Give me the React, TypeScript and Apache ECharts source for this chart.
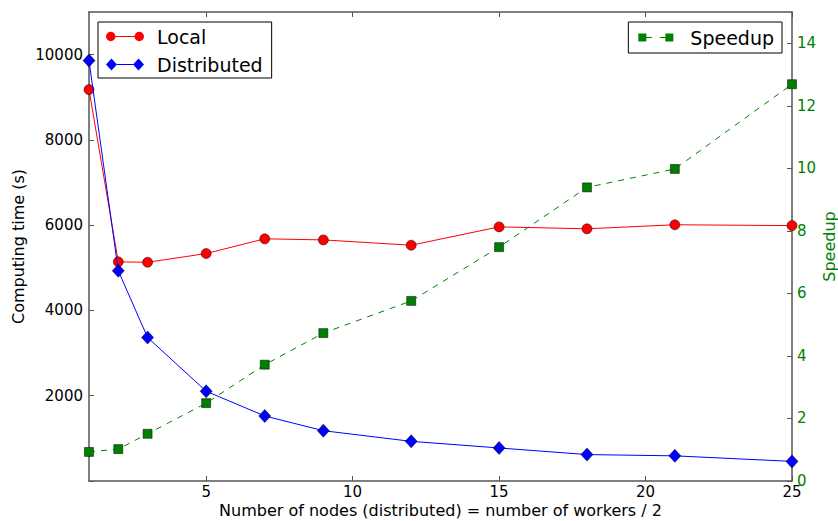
import React, { useEffect, useRef } from "react";
import * as echarts from "echarts";

const nodes = [1, 2, 3, 5, 7, 9, 12, 15, 18, 21, 25];
const localTime = [9180, 5140, 5130, 5335, 5680, 5655, 5530, 5960, 5915, 6010, 5990];
const distributedTime = [9860, 4930, 3365, 2105, 1525, 1180, 930, 775, 620, 590, 460];
const speedup = [0.93, 1.02, 1.51, 2.49, 3.72, 4.73, 5.76, 7.48, 9.39, 9.98, 12.69];

const xTicks = [5, 10, 15, 20, 25];
const leftTicks = [0, 2000, 4000, 6000, 8000, 10000];
const leftLabels = [2000, 4000, 6000, 8000, 10000];
const rightTicks = [0, 2, 4, 6, 8, 10, 12, 14];

const FONT = "DejaVu Sans";
const SPINE = "#555555";
const GREEN = "#008000";

const iconLocal =
  "path://M0,4.5A4.5,4.5 0 1,1 9,4.5A4.5,4.5 0 1,1 0,4.5Z" +
  "M9,4L27,4L27,5L9,5Z" +
  "M27,4.5A4.5,4.5 0 1,1 36,4.5A4.5,4.5 0 1,1 27,4.5Z";
const iconDist =
  "path://M5.5,0L11,6L5.5,12L0,6Z" +
  "M11,5.5L27,5.5L27,6.5L11,6.5Z" +
  "M32.5,0L38,6L32.5,12L27,6Z";
const iconSpeed =
  "path://M0,0L8,0L8,8L0,8Z" +
  "M8,3.5L13.5,3.5L13.5,4.5L8,4.5Z" +
  "M21.5,3.5L27,3.5L27,4.5L21.5,4.5Z" +
  "M27,0L35,0L35,8L27,8Z";

export default function App() {
  const ref = useRef<HTMLDivElement>(null);

  useEffect(() => {
    if (!ref.current) return;
    const chart = echarts.init(ref.current, null, { renderer: "svg" });

    const pairs = (ys: number[]) => nodes.map((x, i) => [x, ys[i]]);
    const plain = (v: number) => String(v);

    const xCommon = {
      type: "value" as const,
      min: 1,
      max: 25,
      splitLine: { show: false },
      axisLine: { show: true, onZero: false, lineStyle: { color: SPINE, width: 1.5 } },
      axisTick: {
        show: true,
        inside: true,
        length: 5,
        customValues: xTicks,
        lineStyle: { color: SPINE, width: 1 },
      },
    };

    const option: any = {
      animation: false,
      backgroundColor: "#ffffff",
      textStyle: { fontFamily: FONT },
      grid: {
        left: 89,
        right: 46,
        top: 12,
        bottom: 40,
        containLabel: false,
        outerBoundsMode: "none",
      },
      xAxis: [
        {
          ...xCommon,
          position: "bottom",
          name: "Number of nodes (distributed) = number of workers / 2",
          nameLocation: "middle",
          nameGap: 21,
          nameMoveOverlap: false,
          nameTextStyle: { fontFamily: FONT, fontSize: 16, color: "#000" },
          axisLabel: {
            show: true,
            customValues: xTicks,
            formatter: plain,
            margin: 3,
            fontFamily: FONT,
            fontSize: 15,
            color: "#000",
          },
        },
        {
          ...xCommon,
          position: "top",
          axisLabel: { show: false },
        },
      ],
      yAxis: [
        {
          type: "value",
          position: "left",
          min: 0,
          max: 11000,
          splitLine: { show: false },
          axisLine: { show: true, onZero: false, lineStyle: { color: SPINE, width: 1.5 } },
          axisTick: {
            show: true,
            inside: true,
            length: 5,
            customValues: leftTicks,
            lineStyle: { color: SPINE, width: 1 },
          },
          axisLabel: {
            customValues: leftLabels,
            formatter: plain,
            margin: 6,
            fontFamily: FONT,
            fontSize: 15,
            color: "#000",
          },
          name: "Computing time (s)",
          nameLocation: "middle",
          nameRotate: 90,
          nameGap: 63,
          nameMoveOverlap: false,
          nameTextStyle: { fontFamily: FONT, fontSize: 16, color: "#000" },
        },
        {
          type: "value",
          position: "right",
          min: 0,
          max: 15,
          splitLine: { show: false },
          axisLine: { show: true, onZero: false, lineStyle: { color: SPINE, width: 1.5 } },
          axisTick: {
            show: true,
            inside: true,
            length: 5,
            customValues: rightTicks,
            lineStyle: { color: SPINE, width: 1 },
          },
          axisLabel: {
            customValues: rightTicks,
            formatter: plain,
            margin: 5,
            fontFamily: FONT,
            fontSize: 15,
            color: GREEN,
          },
          name: "Speedup",
          nameLocation: "middle",
          nameRotate: 90,
          nameGap: 29,
          nameMoveOverlap: false,
          nameTextStyle: { fontFamily: FONT, fontSize: 16, color: GREEN },
        },
      ],
      legend: [
        {
          data: [
            { name: "Local", icon: iconLocal },
            { name: "Distributed", icon: iconDist },
          ],
          orient: "vertical",
          left: 98,
          top: 22,
          itemWidth: 38,
          itemHeight: 12,
          itemGap: 9,
          padding: [5, 9, 4, 8],
          borderColor: "#000",
          borderWidth: 1,
          borderRadius: 0,
          backgroundColor: "#fff",
          itemStyle: { borderWidth: 0 },
          textStyle: { fontFamily: FONT, fontSize: 19, color: "#000", padding: [0, 0, 0, 8] },
          selectedMode: false,
        },
        {
          data: [{ name: "Speedup", icon: iconSpeed }],
          orient: "vertical",
          right: 56,
          top: 22,
          itemWidth: 35,
          itemHeight: 8,
          padding: [6, 8, 6, 10],
          borderColor: "#000",
          borderWidth: 1,
          borderRadius: 0,
          backgroundColor: "#fff",
          itemStyle: { borderWidth: 0 },
          textStyle: { fontFamily: FONT, fontSize: 19, color: "#000", padding: [0, 0, 0, 12] },
          selectedMode: false,
        },
      ],
      series: [
        {
          name: "Local",
          type: "line",
          xAxisIndex: 0,
          yAxisIndex: 0,
          data: pairs(localTime),
          symbol: "circle",
          symbolSize: 10,
          lineStyle: { color: "#ff0000", width: 1 },
          itemStyle: { color: "#ff0000", borderColor: "#000", borderWidth: 0.5 },
          z: 3,
        },
        {
          name: "Distributed",
          type: "line",
          xAxisIndex: 0,
          yAxisIndex: 0,
          data: pairs(distributedTime),
          symbol: "diamond",
          symbolSize: [12, 13],
          lineStyle: { color: "#0000ff", width: 1 },
          itemStyle: { color: "#0000ff", borderColor: "#000", borderWidth: 0.5 },
          z: 4,
        },
        {
          name: "Speedup",
          type: "line",
          xAxisIndex: 0,
          yAxisIndex: 1,
          data: pairs(speedup),
          symbol: "rect",
          symbolSize: 9,
          lineStyle: { color: GREEN, width: 1, type: [6, 6] },
          itemStyle: { color: GREEN, borderColor: "#000", borderWidth: 0.5 },
          z: 2,
        },
      ],
    };

    chart.setOption(option);
    return () => chart.dispose();
  }, []);

  return (
    <div
      ref={ref}
      style={{ position: "fixed", left: 0, top: 0, width: 838, height: 521, background: "#fff" }}
    />
  );
}
